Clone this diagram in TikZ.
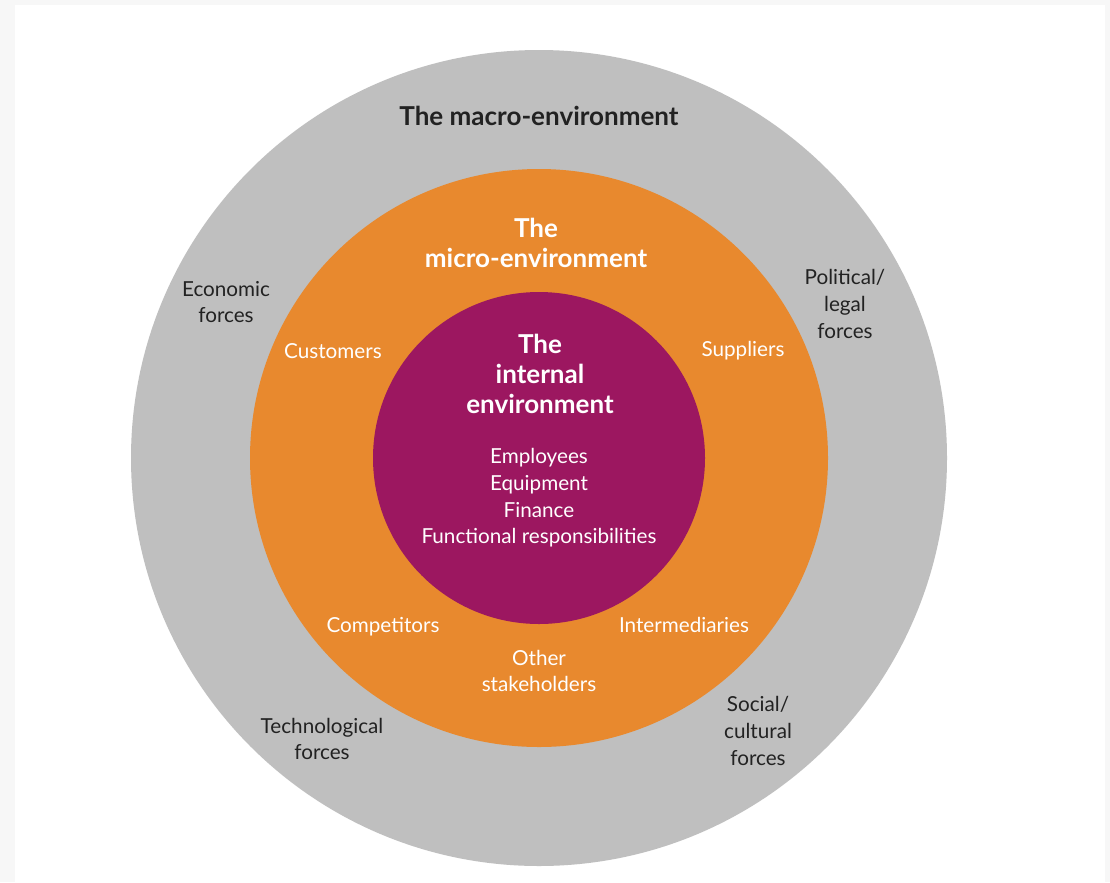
\documentclass[tikz,border=0pt]{standalone}
\usepackage{fontspec}
\setmainfont{Lato}
\usepackage{xcolor}
\usepackage{tikz}
\usetikzlibrary{positioning}

\definecolor{macrogray}{HTML}{BFBFBF}
\definecolor{microorange}{HTML}{E8892E}
\definecolor{innerplum}{HTML}{9C1760}
\definecolor{labeldark}{HTML}{222222}
\definecolor{framegray}{HTML}{F7F7F7}

\tikzset{
  heading/.style={font=\bfseries\fontsize{18.5}{21.5}\selectfont, align=center, inner sep=0pt},
  force/.style={font=\fontsize{14.7}{19}\selectfont, align=center, inner sep=0pt, text=labeldark},
  actor/.style={font=\fontsize{14.7}{19}\selectfont, align=center, inner sep=0pt, text=white}
}

\begin{document}
\begin{tikzpicture}[x=0.025cm, y=-0.025cm]
% page frame (1px = 1 unit)
\fill[framegray] (0,0) rectangle (1110,882);
\fill[white] (15,5) rectangle (1105,882);
\useasboundingbox (0,0) rectangle (1110,882);

% three nested environments
\def\cx{539}
\def\cy{458}
\fill[macrogray] (\cx,\cy) circle (408);
\fill[microorange] (\cx,\cy) circle (289);
\fill[innerplum] (\cx,\cy) circle (166);

% headings
\node[heading, text=labeldark] (macro) at (539,116) {The macro-environment};
\node[heading, text=white] (micro) at (536,243) {The\\micro-environment};
\node[heading, text=white] (internal) at (540,374) {The\\internal\\environment};

% internal resources
\node[actor] (resources) at (539,498)
  {Employees\\Equipment\\Finance\\Functional responsibilities};

% micro-environment actors
\node[actor] (customers) at (333,351) {Customers};
\node[actor] (suppliers) at (743,351) {Suppliers};
\node[actor] (competitors) at (383,627) {Competitors};
\node[actor] (intermediaries) at (684,625) {Intermediaries};
\node[actor] (stakeholders) at (539,671) {Other\\stakeholders};

% macro-environment forces
\node[force] (economic) at (226,302) {Economic\\forces};
\node[force] (political) at (845,304) {Political/\\legal\\forces};
\node[force] (technological) at (322,739) {Technological\\forces};
\node[force] (social) at (758,731) {Social/\\cultural\\forces};
\end{tikzpicture}
\end{document}
